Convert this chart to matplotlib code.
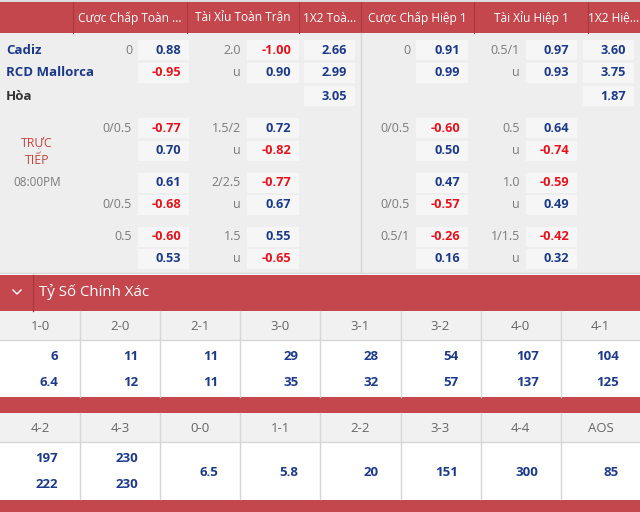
import matplotlib
matplotlib.use("Agg")
import matplotlib.pyplot as plt
from matplotlib.patches import Rectangle

plt.rcParams['font.family'] = ['Open Sans', 'DejaVu Sans']

# header of the odds table
headers = ["Cược Chấp Toàn ...", "Tài Xỉu Toàn Trận", "1X2 Toà...",
           "Cược Chấp Hiệp 1", "Tài Xỉu Hiệp 1", "1X2 Hiệ..."]
teams = ["Cadiz", "RCD Mallorca", "Hòa"]
live_text = ["TRỰC", "TIẾP"]
kickoff = "08:00PM"

# odds, one entry per row (9 rows: 3 main + 3 pairs of alternative lines)
hdp_ft_line = ["0", "", "", "0/0.5", "", "", "0/0.5", "0.5", ""]
hdp_ft_odds = ["0.88", "-0.95", None, "-0.77", "0.70", "0.61", "-0.68", "-0.60", "0.53"]
ou_ft_line = ["2.0", "u", "", "1.5/2", "u", "2/2.5", "u", "1.5", "u"]
ou_ft_odds = ["-1.00", "0.90", None, "0.72", "-0.82", "-0.77", "0.67", "0.55", "-0.65"]
x12_ft = ["2.66", "2.99", "3.05", None, None, None, None, None, None]
hdp_h1_line = ["0", "", "", "0/0.5", "", "", "0/0.5", "0.5/1", ""]
hdp_h1_odds = ["0.91", "0.99", None, "-0.60", "0.50", "0.47", "-0.57", "-0.26", "0.16"]
ou_h1_line = ["0.5/1", "u", "", "0.5", "u", "1.0", "u", "1/1.5", "u"]
ou_h1_odds = ["0.97", "0.93", None, "0.64", "-0.74", "-0.59", "0.49", "-0.42", "0.32"]
x12_h1 = ["3.60", "3.75", "1.87", None, None, None, None, None, None]

# correct score section
cs_title = "Tỷ Số Chính Xác"
scores1 = ["1-0", "2-0", "2-1", "3-0", "3-1", "3-2", "4-0", "4-1"]
home1 = ["6", "11", "11", "29", "28", "54", "107", "104"]
away1 = ["6.4", "12", "11", "35", "32", "57", "137", "125"]
scores2 = ["4-2", "4-3", "0-0", "1-1", "2-2", "3-3", "4-4", "AOS"]
home2 = ["197", "230", "6.5", "5.8", "20", "151", "300", "85"]
away2 = ["222", "230", None, None, None, None, None, None]

RED = "#c5474e"
DARKRED = "#a83940"
BLUE = "#1b3a8c"
NEG = "#e8121c"
GREY = "#7a7a7a"
BODY = "#eeeeee"
BOX = "#f6f6f6"
LINE = "#d6d6d6"

row_y = [50, 73, 96, 128, 151, 183, 205, 237, 259]
col_edges = [0, 73, 187, 299, 361, 474, 588, 640]

fig = plt.figure(figsize=(6.4, 5.12), dpi=100)
ax = fig.add_axes([0, 0, 1, 1])
ax.set_xlim(0, 640)
ax.set_ylim(512, 0)
ax.axis("off")

# header bar
ax.add_patch(Rectangle((0, 0), 640, 2, color="#dddddd", lw=0))
ax.add_patch(Rectangle((0, 2), 640, 31, color=RED, lw=0))
for x in col_edges[1:-1]:
    ax.plot([x, x], [2, 33], color=DARKRED, lw=0.8)
for i, h in enumerate(headers):
    xc = (col_edges[i + 1] + col_edges[i + 2]) / 2
    ax.text(xc, 18, h, color="white", fontsize=8.6, ha="center", va="center")

# body
ax.add_patch(Rectangle((0, 33), 640, 240, color=BODY, lw=0))
ax.plot([361, 361], [33, 272], color=LINE, lw=1)
ax.plot([0, 640], [272.5, 272.5], color=LINE, lw=1)

ax.text(6, row_y[0], teams[0], color=BLUE, fontsize=9.5, fontweight="bold", va="center")
ax.text(6, row_y[1], teams[1], color=BLUE, fontsize=9.5, fontweight="bold", va="center")
ax.text(6, row_y[2], teams[2], color="#333333", fontsize=9.5, fontweight="bold", va="center")
ax.text(37, 143, live_text[0], color="#c4453d", fontsize=8.8, ha="center", va="center")
ax.text(37, 161, live_text[1], color="#c4453d", fontsize=8.8, ha="center", va="center")
ax.text(37, 182, kickoff, color=GREY, fontsize=8.5, ha="center", va="center")


def odds_column(lines, odds, box_l, box_r):
    for i, y in enumerate(row_y):
        if lines is not None and lines[i]:
            ax.text(box_l - 6, y, lines[i], color=GREY, fontsize=9, ha="right", va="center")
        if odds[i] is None:
            continue
        ax.add_patch(Rectangle((box_l, y - 10), box_r - box_l, 20, color=BOX, lw=0))
        c = NEG if odds[i].startswith("-") else BLUE
        ax.text(box_r - 8, y, odds[i], color=c, fontsize=9.2, fontweight="bold",
                ha="right", va="center")


odds_column(hdp_ft_line, hdp_ft_odds, 138, 189)
odds_column(ou_ft_line, ou_ft_odds, 247, 299)
odds_column(None, x12_ft, 304, 355)
odds_column(hdp_h1_line, hdp_h1_odds, 416, 468)
odds_column(ou_h1_line, ou_h1_odds, 526, 577)
odds_column(None, x12_h1, 583, 634)

# correct score title bar
ax.add_patch(Rectangle((0, 275), 640, 36, color=RED, lw=0))
ax.plot([33, 33], [275, 311], color=DARKRED, lw=1)
ax.plot([13, 17, 21], [290, 294, 290], color="white", lw=1)
ax.text(39, 292, cs_title, color="white", fontsize=10.8, va="center")


def score_block(top, labels, home, away):
    ax.add_patch(Rectangle((0, top), 640, 29, color="#f1f1f1", lw=0))
    ax.add_patch(Rectangle((0, top + 29), 640, 57, color="white", lw=0))
    ax.plot([0, 640], [top + 29, top + 29], color=LINE, lw=1)
    for k in range(1, 8):
        ax.plot([k * 80.1, k * 80.1], [top, top + 86], color=LINE, lw=1)
    for k, lab in enumerate(labels):
        x0 = k * 80.1
        ax.text(x0 + 40, top + 15, lab, color="#666666", fontsize=9.5, ha="center", va="center")
        if away[k] is None:
            ax.text(x0 + 58, top + 59, home[k], color=BLUE, fontsize=9.5,
                    fontweight="bold", ha="right", va="center")
        else:
            ax.text(x0 + 58, top + 46, home[k], color=BLUE, fontsize=9.5,
                    fontweight="bold", ha="right", va="center")
            ax.text(x0 + 58, top + 72, away[k], color=BLUE, fontsize=9.5,
                    fontweight="bold", ha="right", va="center")


score_block(311, scores1, home1, away1)
ax.add_patch(Rectangle((0, 397), 640, 16, color=RED, lw=0))
score_block(413, scores2, home2, away2)
ax.add_patch(Rectangle((0, 500), 640, 12, color=RED, lw=0))

fig.savefig("out.png", dpi=100)
